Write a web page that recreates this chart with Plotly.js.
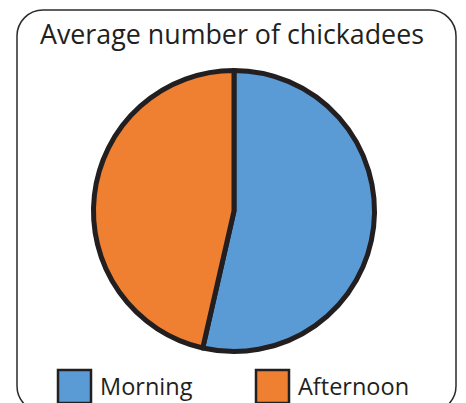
<!DOCTYPE html>
<html>
<head>
<meta charset="utf-8">
<script src="https://cdn.plot.ly/plotly-3.0.1.min.js"></script>
<style>
  html, body { margin: 0; padding: 0; background: #ffffff; }
  #chart { width: 466px; height: 403px; }
</style>
</head>
<body>
<div id="chart"></div>
<script>
// Chart data
const title = 'Average number of chickadees';
const labels = ['Morning', 'Afternoon'];
const values = [15, 13];
const colors = ['#5b9bd5', '#ef7f31'];

const W = 466, H = 403;
const INK = '#231f20';
const FONT = '"Open Sans", "Noto Sans", sans-serif';

// pixel -> paper coordinates (margins are zero)
const px = x => x / W;
const py = y => 1 - y / H;

// Rounded frame around the whole figure (bottom edge runs past the page)
function roundedFrame(x0, y0, x1, y1, r) {
  const k = 0.5523 * r;
  const P = (x, y) => px(x) + ',' + py(y);
  return 'M' + P(x0 + r, y0) +
    ' L' + P(x1 - r, y0) +
    ' C' + P(x1 - r + k, y0) + ' ' + P(x1, y0 + r - k) + ' ' + P(x1, y0 + r) +
    ' L' + P(x1, y1 - r) +
    ' C' + P(x1, y1 - r + k) + ' ' + P(x1 - r + k, y1) + ' ' + P(x1 - r, y1) +
    ' L' + P(x0 + r, y1) +
    ' C' + P(x0 + r - k, y1) + ' ' + P(x0, y1 - r + k) + ' ' + P(x0, y1 - r) +
    ' L' + P(x0, y0 + r) +
    ' C' + P(x0, y0 + r - k) + ' ' + P(x0 + r - k, y0) + ' ' + P(x0 + r, y0) + ' Z';
}

const shapes = [{
  type: 'path', xref: 'paper', yref: 'paper',
  path: roundedFrame(17, 10, 456, 412, 26),
  line: { color: '#2b2b2b', width: 1.5 }
}];
const annotations = [];

// Custom legend: big outlined swatches with labels
const legendX = [58, 256];
const box = 33, boxTop = 370;
labels.forEach((lab, i) => {
  const x0 = legendX[i];
  shapes.push({
    type: 'rect', xref: 'paper', yref: 'paper',
    x0: px(x0), x1: px(x0 + box), y0: py(boxTop + box), y1: py(boxTop),
    fillcolor: colors[i], line: { color: INK, width: 2.5 }
  });
  annotations.push({
    xref: 'paper', yref: 'paper', x: px(x0 + box + 7), y: py(386),
    xanchor: 'left', yanchor: 'middle', showarrow: false,
    text: lab, font: { family: FONT, size: 23.5, color: INK }
  });
});

// Pie centred at (234, 211) px with radius ~140 px
const cx = 234, cy = 211, r = 140.5;

const data = [{
  type: 'pie',
  labels: labels,
  values: values,
  marker: { colors: colors, line: { color: INK, width: 5 } },
  sort: false,
  direction: 'clockwise',
  rotation: 0,
  textinfo: 'none',
  hoverinfo: 'label+value',
  showlegend: false,
  domain: { x: [px(cx - r), px(cx + r)], y: [py(cy + r), py(cy - r)] }
}];

const layout = {
  width: W, height: H,
  margin: { l: 0, r: 0, t: 0, b: 0 },
  paper_bgcolor: '#ffffff',
  title: {
    text: title,
    x: px(232), xanchor: 'center',
    y: py(35), yanchor: 'middle', yref: 'container',
    font: { family: FONT, size: 26.8, color: INK }
  },
  showlegend: false,
  shapes: shapes,
  annotations: annotations
};

Plotly.newPlot('chart', data, layout, { displayModeBar: false, staticPlot: true });
</script>
</body>
</html>
